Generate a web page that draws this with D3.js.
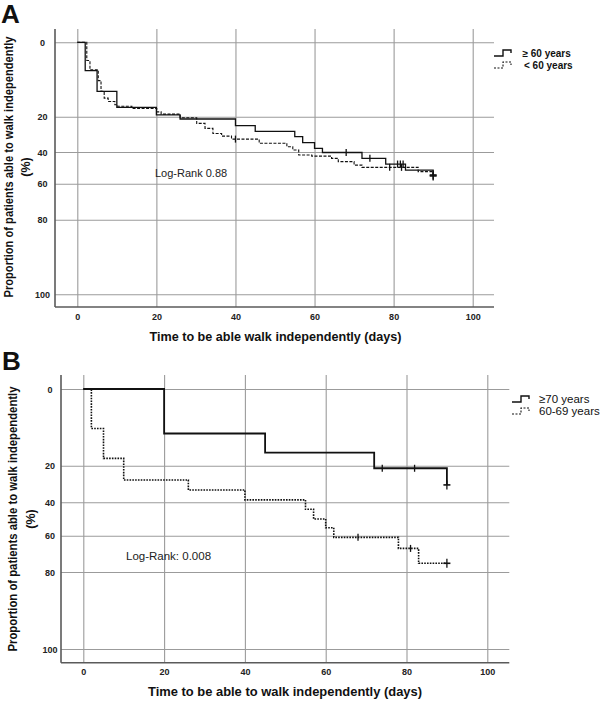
<!DOCTYPE html>
<html><head><meta charset="utf-8">
<script src="https://cdn.jsdelivr.net/npm/d3@7"></script>
<style>
body{margin:0;background:#fff;}
svg{display:block;font-family:"Liberation Sans",Arial,sans-serif;}
</style></head>
<body><svg id="c" width="602" height="701"></svg>
<script>
// ---------- DATA ----------
const yTicks = [0, 20, 40, 60, 80, 100];
const xTicks = [0, 20, 40, 60, 80, 100];

// Panel A: >= 60 years (solid)
const aOldTimes  = [0, 2, 5, 10, 20, 26, 40, 45, 55, 57, 60, 62, 72, 78, 83, 90];
const aOldValues = [0, 7.6, 13.2, 17.5, 19.5, 21.3, 25.0, 28.3, 31.3, 34.7, 37.9, 40.3, 44.0, 47.6, 51.4, 54.5];
const aOldCensorTimes  = [68, 74, 81, 81.7, 82.4, 90];
// Panel A: < 60 years (dashed)
const aYoungTimes  = [0, 2.4, 3.2, 5.3, 6, 6.8, 7.8, 9.5, 10.2, 13.8, 20.1, 21.2, 26, 30.2, 32.3, 34.3, 36.5, 39, 46, 53, 54.5, 56, 59.3, 64.3, 66, 70, 72, 86.2, 90];
const aYoungValues = [0, 4.9, 7.4, 10.3, 13.2, 15.0, 15.9, 16.8, 17.2, 17.8, 18.7, 19.3, 20.6, 23.8, 26.6, 29.5, 31.0, 32.7, 35.0, 37.0, 38.9, 41.9, 42.6, 44.0, 46.1, 48.3, 49.7, 52.4, 55.1];
const aYoungCensorTimes = [40, 79, 82, 90];

// Panel B: >= 70 years (solid)
const bOldTimes  = [0, 20, 45, 72, 90];
const bOldValues = [0, 11.6, 16.6, 21.4, 30.5];
const bOldCensorTimes = [74, 82, 90];
// Panel B: 60-69 years (dotted)
const bMidTimes  = [0, 2, 5, 10, 26, 40, 55, 57, 60, 62, 78, 83];
const bMidValues = [0, 10.3, 18.1, 27.8, 33.3, 38.7, 44.2, 50.0, 55.2, 60.9, 67.0, 75.2];
const bMidCensorTimes = [68, 81, 90];
const followUpEnd = 90;

const legendA = ["\u2265 60 years", " < 60 years"];
const legendB = ["\u226570 years", "60-69 years"];
const xTitleA = "Time to be able walk independently (days)";
const xTitleB = "Time to be able to walk independently (days)";
const yTitle1 = "Proportion of patients able to walk independently";
const yTitle2 = "(%)";
const logRankA = "Log-Rank 0.88";
const logRankB = "Log-Rank: 0.008";

// ---------- DRAW ----------
const svg = d3.select("#c");
const GRID = "#9b9b9b", AXIS = "#5a5a5a", INK = "#111";

function stepValue(times, values, t){
  let v = values[0];
  for (let i=0;i<times.length;i++){ if (times[i] <= t) v = values[i]; }
  return v;
}

function panel(cfg){
  const g = svg.append("g");
  const x = d3.scaleLinear().domain([0,100]).range(cfg.xr);
  const y = d3.scaleLinear().domain(yTicks).range(cfg.yr);

  // gridlines via axes
  const gx = g.append("g").attr("transform",`translate(0,${cfg.bottom})`)
    .call(d3.axisBottom(x).tickValues(xTicks).tickSize(-(cfg.bottom-cfg.top)).tickSizeOuter(0).tickPadding(0));
  gx.select(".domain").remove();
  gx.selectAll("line").attr("stroke",GRID).attr("stroke-width",1.1);
  gx.selectAll("text").attr("y", cfg.xLabY - cfg.bottom).attr("dy","0.35em")
    .attr("font-size",9).attr("font-weight","bold").attr("fill","#222");

  const gy = g.append("g").attr("transform",`translate(${cfg.left},0)`)
    .call(d3.axisLeft(y).tickValues(yTicks).tickSize(-(cfg.right-cfg.left)).tickSizeOuter(0));
  gy.select(".domain").remove();
  gy.selectAll("line").attr("stroke",GRID).attr("stroke-width",1.1);
  gy.selectAll("text").attr("x", cfg.yLabX - cfg.left).attr("text-anchor","middle").attr("dy","0.35em")
    .attr("font-size",9).attr("font-weight","bold").attr("fill","#222");

  // axis lines
  g.append("line").attr("x1",cfg.left).attr("x2",cfg.left).attr("y1",cfg.top).attr("y2",cfg.bottom)
    .attr("stroke",AXIS).attr("stroke-width",1.6);
  g.append("line").attr("x1",cfg.left).attr("x2",cfg.right).attr("y1",cfg.bottom).attr("y2",cfg.bottom)
    .attr("stroke",AXIS).attr("stroke-width",1.6);

  const line = d3.line().x(d=>x(d[0])).y(d=>y(d[1])).curve(d3.curveStepAfter);
  cfg.series.forEach(s=>{
    const pts = s.times.map((t,i)=>[t, s.values[i]]);
    if (pts[pts.length-1][0] < followUpEnd) pts.push([followUpEnd, pts[pts.length-1][1]]);
    g.append("path").attr("d",line(pts)).attr("fill","none").attr("stroke",INK)
      .attr("stroke-width",s.width).attr("stroke-dasharray",s.dash||null);
    s.censor.forEach(t=>{
      const cx = x(t), cy = y(stepValue(s.times,s.values,t));
      const big = t >= followUpEnd;
      const h = big?4.5:3.5, w = big?3.5:0;
      g.append("line").attr("x1",cx).attr("x2",cx).attr("y1",cy-h).attr("y2",cy+h)
        .attr("stroke",INK).attr("stroke-width",1.3);
      if (w) g.append("line").attr("x1",cx-w).attr("x2",cx+w).attr("y1",cy).attr("y2",cy)
        .attr("stroke",INK).attr("stroke-width",1.6);
    });
  });

  // legend
  cfg.legend.forEach((lab,i)=>{
    const ly = cfg.legY + i*cfg.legGap, lx = cfg.legX;
    g.append("path").attr("d",`M${lx},${ly+3}H${lx+9}V${ly-3}H${lx+17}V${ly}`)
      .attr("fill","none").attr("stroke",INK).attr("stroke-width",i?1.1:1.4)
      .attr("stroke-dasharray", i?"2,1.5":null);
    g.append("text").attr("x",cfg.legTextX[i]).attr("y",ly).attr("dy","0.35em")
      .attr("font-size",cfg.legFont).attr("font-weight",cfg.legWeight).attr("fill","#111")
      .text(lab);
  });

  // log-rank
  g.append("text").attr("x",cfg.lrX).attr("y",cfg.lrY).attr("dy","0.35em")
    .attr("font-size",cfg.lrFont).attr("fill","#222").text(cfg.lrText);

  // x title
  g.append("text").attr("x",cfg.xtX).attr("y",cfg.xtY).attr("dy","0.35em")
    .attr("font-size",12.5).attr("font-weight","bold").attr("fill","#111")
    .attr("textLength",cfg.xtW).attr("lengthAdjust","spacingAndGlyphs").text(cfg.xTitle);

  // y title
  const yt = g.append("g").attr("transform",`translate(${cfg.ytX},${cfg.ytY}) rotate(-90)`);
  yt.append("text").attr("x",0).attr("y",0).attr("text-anchor","middle").attr("dy","0.35em")
    .attr("font-size",12.5).attr("font-weight","bold").attr("fill","#111")
    .attr("textLength",cfg.ytW).attr("lengthAdjust","spacingAndGlyphs").text(yTitle1);
  yt.append("text").attr("x",0).attr("y",cfg.ytGap).attr("text-anchor","middle").attr("dy","0.35em")
    .attr("font-size",12.5).attr("font-weight","bold").attr("fill","#111").text(yTitle2);

  // panel letter
  svg.append("text").attr("x",cfg.letX).attr("y",cfg.letY).attr("font-size",26)
    .attr("font-weight","bold").attr("fill","#111").text(cfg.letter);
}

panel({
  letter:"A", letX:1, letY:23,
  xr:[77.3,472.7], yr:[42.3,116.7,152,183.7,219.7,294.3],
  left:55, right:494, top:29, bottom:307, xLabY:317, yLabX:42.5,
  series:[
    {times:aOldTimes, values:aOldValues, censor:aOldCensorTimes, width:1.3},
    {times:aYoungTimes, values:aYoungValues, censor:aYoungCensorTimes, width:1.1, dash:"3,1.5"}
  ],
  legend:legendA, legX:494, legY:53, legGap:12, legTextX:[522.5,524], legFont:10, legWeight:"bold",
  lrX:155, lrY:173.5, lrFont:11, lrText:logRankA,
  xTitle:xTitleA, xtX:149.5, xtY:336.5, xtW:252,
  ytX:9, ytY:167, ytW:261, ytGap:17
});

panel({
  letter:"B", letX:2, letY:370,
  xr:[83.3,487.3], yr:[389,465.7,502.3,535.7,572,649],
  left:61, right:509.3, top:375, bottom:662.7, xLabY:672, yLabX:50,
  series:[
    {times:bOldTimes, values:bOldValues, censor:bOldCensorTimes, width:1.8},
    {times:bMidTimes, values:bMidValues, censor:bMidCensorTimes, width:1.6, dash:"1.6,1.2"}
  ],
  legend:legendB, legX:512, legY:399, legGap:12, legTextX:[539,539], legFont:11.5, legWeight:"normal",
  lrX:126, lrY:556, lrFont:11.5, lrText:logRankB,
  xTitle:xTitleB, xtX:148, xtY:691.5, xtW:274,
  ytX:12.5, ytY:519, ytW:265, ytGap:18
});
</script></body></html>
